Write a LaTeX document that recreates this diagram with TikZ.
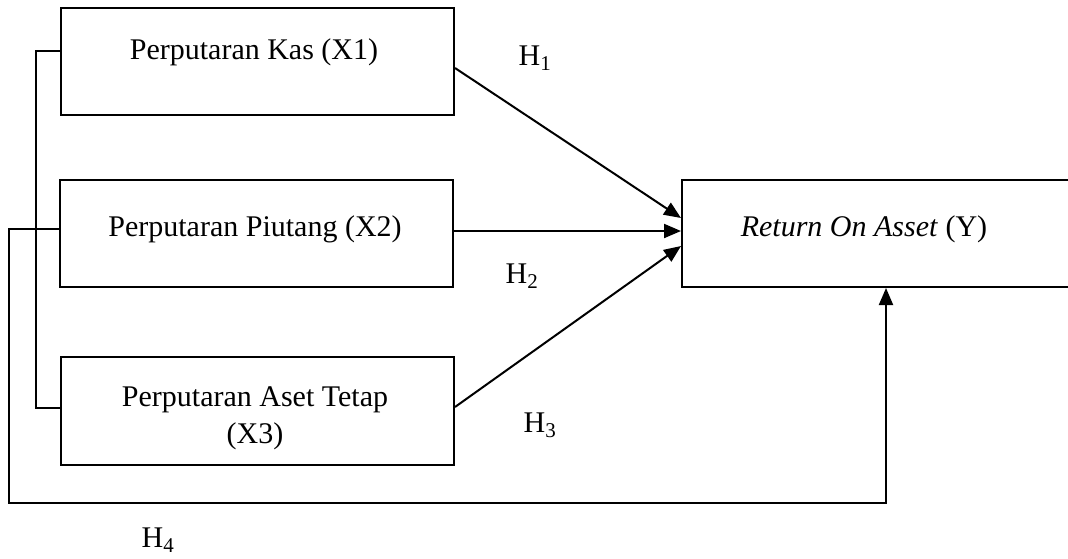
\documentclass[tikz,border=0pt]{standalone}
\usepackage{fontspec}
\setmainfont{Liberation Serif}
\usetikzlibrary{arrows.meta}
\begin{document}
\begin{tikzpicture}[x=1pt,y=-1pt,
  box/.style={draw,line width=2pt,inner sep=0pt,anchor=north west},
  lbl/.style={font=\fontsize{30}{37}\selectfont,inner sep=0pt,align=center},
  conn/.style={line width=2pt},
  arr/.style={line width=2pt,-{Triangle[length=17pt,width=14pt]}}]
\useasboundingbox (0,0) rectangle (1068,558);
\clip (0,0) rectangle (1068,558);
\node[box,minimum width=393pt,minimum height=107pt] (x1) at (60,7) {};
\node[box,minimum width=393pt,minimum height=107pt] (x2) at (59,179) {};
\node[box,minimum width=393pt,minimum height=108pt] (x3) at (60,356) {};
\node[box,minimum width=400pt,minimum height=107pt] (y) at (681,179) {};
\node[lbl] (x1t) at (254,52) {Perputaran Kas (X1)};
\node[lbl] (x2t) at (255,229) {Perputaran Piutang (X2)};
\node[lbl] (x3t) at (255,418) {Perputaran Aset Tetap\\(X3)};
\node[lbl] (yt) at (864,229) {\textit{Return On Asset} (Y)};
\node[lbl] (h1) at (535,58) {H\textsubscript{1}};
\node[lbl] (h2) at (522,276) {H\textsubscript{2}};
\node[lbl] (h3) at (540,425) {H\textsubscript{3}};
\node[lbl] (h4) at (158,540) {H\textsubscript{4}};
\coordinate (b1) at (36,51);
\coordinate (b3) at (36,408);
\draw[conn] (x1.west |- b1) -- (b1) -- (b3) -- (x3.west |- b3);
\coordinate (o1) at (9,229);
\coordinate (o2) at (9,503);
\coordinate (o3) at (886,503);
\draw[arr] (x2.west |- o1) -- (o1) -- (o2) -- (o3) -- (y.south -| o3);
\coordinate (a1) at (453,68);
\coordinate (e1) at (681,218);
\coordinate (a2) at (452,231);
\coordinate (a3) at (453,407);
\coordinate (e3) at (681,246);
\draw[arr] (x1.east |- a1) -- (y.west |- e1);
\draw[arr] (x2.east |- a2) -- (y.west |- a2);
\draw[arr] (x3.east |- a3) -- (y.west |- e3);
\end{tikzpicture}
\end{document}
